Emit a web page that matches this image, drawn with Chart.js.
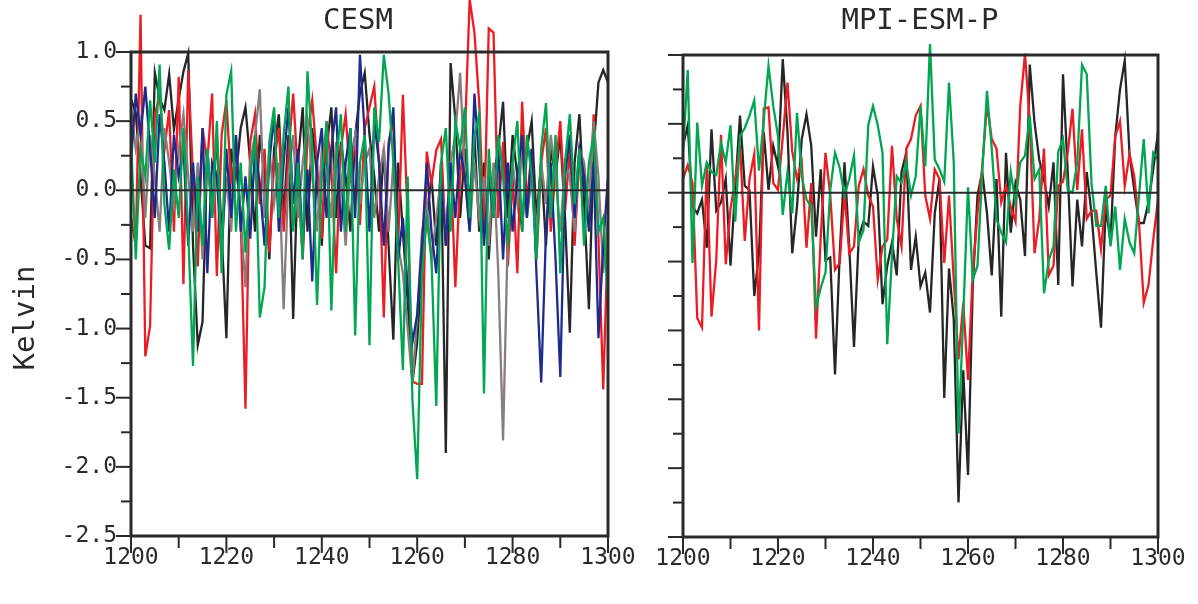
<!DOCTYPE html>
<html>
<head>
<meta charset="utf-8">
<script src="https://cdn.jsdelivr.net/npm/chart.js@4/dist/chart.umd.min.js"></script>
<style>
  html, body { margin: 0; padding: 0; background: #fff; }
  #wrap { position: relative; width: 1198px; height: 604px; }
  canvas { position: absolute; left: 0; top: 0; }
</style>
</head>
<body>
<div id="wrap">
  <canvas id="cesm" width="1198" height="604"></canvas>
  <canvas id="mpi" width="1198" height="604"></canvas>
</div>
<script>
// Years 1200..1300 (annual values)
const years = [];
for (let yr = 1200; yr <= 1300; yr++) years.push(yr);

// Axis ticks
const yTicksMajor = [-2.5, -2.0, -1.5, -1.0, -0.5, 0.0, 0.5, 1.0];
const yTicksMinor = [-2.25, -1.75, -1.25, -0.75, -0.25, 0.25, 0.75];
const xTicksMajor = [1200, 1220, 1240, 1260, 1280, 1300];
const xTicksMinor = [1210, 1230, 1250, 1270, 1290];

// CESM ensemble members (K)
const cesmRed = [-0.20,-0.40,1.27,-1.20,-0.98,0.55,0.68,0.29,0.58,-0.30,0.82,-0.68,0.87,0.10,-0.55,0.45,0.20,0.70,-0.62,0.40,
  0.65,0.05,0.30,-0.20,-1.58,0.35,0.55,-0.10,0.30,-0.45,0.20,0.45,-0.30,0.25,0.70,0.10,-0.50,0.40,0.65,0.20,
  -0.35,0.50,0.15,-0.60,0.30,0.55,0.05,0.40,-0.25,0.45,0.60,0.75,0.20,-0.92,0.35,0.50,-0.40,0.69,-0.20,-1.38,
  -1.40,-1.40,0.28,0.05,0.29,0.37,-0.40,0.20,-0.70,0.10,0.40,1.38,1.14,0.63,-0.30,1.17,1.14,-0.20,0.35,-0.55,
  0.10,-0.60,0.64,-0.10,0.30,-0.50,0.20,0.45,-0.30,0.15,0.50,-0.15,0.30,-0.40,0.25,0.10,-0.20,0.55,-0.35,-1.44,-0.30];
const cesmGreen = [0.37,-0.50,0.30,0.10,0.65,0.20,0.91,-0.10,-0.43,0.15,-0.20,0.45,-0.30,-1.27,0.10,-0.40,0.30,-0.20,0.50,-0.60,
  0.69,0.86,-0.30,0.20,-0.45,0.10,0.40,-0.92,-0.70,0.35,0.60,-0.20,0.40,0.75,-0.30,0.20,-0.50,0.86,0.30,-0.83,
  0.10,0.50,-0.87,0.20,0.55,-0.30,0.45,-1.05,0.20,0.40,-1.12,0.60,0.35,0.98,0.70,0.20,-0.50,-1.30,0.10,-1.52,
  -2.09,-0.60,-0.20,-0.50,-1.56,0.20,0.45,-0.30,0.50,0.30,0.60,-0.20,0.40,0.55,-1.47,0.30,-0.20,0.40,0.10,-0.40,
  0.20,0.50,-0.30,0.40,0.10,-0.50,0.30,0.63,-0.20,0.40,-0.60,0.20,0.55,-0.10,0.30,-0.40,0.20,0.40,-0.30,-0.20,-0.80];
const cesmBlue = [0.20,0.70,0.40,0.75,0.30,-0.20,0.55,0.20,-0.30,0.40,0.10,0.30,-0.40,0.20,-0.30,0.45,-0.60,0.20,0.10,-0.50,
  0.30,-0.20,0.40,-0.30,0.10,-0.35,0.30,0.05,-0.40,0.20,0.55,-0.30,0.20,0.60,-0.10,0.30,-0.40,0.15,-0.66,0.20,
  0.45,-0.20,0.30,0.60,-0.30,0.20,0.45,-0.20,0.98,0.40,-0.30,0.50,0.20,-0.40,0.30,0.60,-0.50,-0.20,-0.70,-1.10,
  -0.90,-0.40,0.20,-0.30,-0.60,0.10,-0.40,0.20,-0.20,0.30,0.10,-0.30,0.70,0.20,-0.40,0.10,-0.20,0.30,-0.50,0.20,
  -0.30,0.10,0.40,-0.20,0.30,-0.60,-1.39,-0.30,0.20,-0.50,-1.35,0.10,0.40,-0.20,0.30,0.10,-0.30,0.20,-1.07,-0.40,0.10];
const cesmGray = [0.60,0.30,0.50,-0.20,0.40,0.10,-0.30,0.45,0.20,-0.10,0.30,0.55,0.10,-0.30,0.20,-0.50,0.30,-0.20,0.15,-0.40,
  0.10,-0.30,0.40,-0.20,-0.70,0.20,0.40,0.73,-0.20,0.30,-0.10,0.20,-0.86,0.10,0.40,-0.20,0.20,0.50,0.10,-0.30,
  0.30,0.10,-0.20,0.35,0.10,-0.40,0.20,0.40,-0.10,0.20,0.30,-0.20,0.10,0.30,-0.30,0.20,-0.40,-0.60,-1.00,-1.40,
  -0.90,-0.30,-0.10,-0.50,-0.20,0.10,-0.30,0.20,0.40,0.85,0.10,-0.30,0.20,-0.20,0.10,-0.40,0.20,-0.60,-1.81,-0.30,
  0.20,-0.10,0.30,-0.20,0.10,-0.30,0.20,-0.10,0.40,0.10,-0.30,0.20,0.10,-0.30,0.30,0.20,-0.20,0.50,0.10,-0.60,-0.20];
const cesmBlack = [0.66,0.56,0.10,-0.40,-0.42,0.85,0.66,0.58,0.84,0.44,0.66,0.86,0.99,-0.40,-1.12,-0.95,0.30,-0.20,0.40,-0.30,
  -1.07,0.30,0.10,0.45,0.60,0.20,-0.30,0.40,0.10,-0.50,0.30,0.55,-0.20,0.40,-0.93,0.20,0.60,-0.30,0.45,0.10,
  -0.40,0.30,0.60,-0.20,0.35,0.10,-0.30,0.40,0.70,0.85,0.40,0.10,-0.30,0.30,-0.40,-1.08,0.20,-0.30,-0.80,-1.39,
  -1.10,-0.50,-0.20,0.10,-0.40,0.20,-1.90,0.92,0.51,-0.20,0.30,-0.10,0.40,-0.30,0.20,-0.50,0.10,0.30,0.64,-0.20,
  0.40,0.10,-0.30,0.30,0.50,-0.20,0.20,-0.40,0.30,0.10,0.40,-0.20,-1.03,0.20,0.55,-0.10,-0.86,0.30,0.78,0.87,0.78];

// MPI-ESM-P ensemble members (K)
const mpiRed = [0.10,0.20,0.07,-0.91,-0.98,0.20,-0.90,-0.49,0.42,-0.52,-0.12,0.10,0.35,-0.35,0.10,0.28,-1.00,0.61,0.62,0.07,
  0.02,0.40,0.80,0.30,0.10,0.22,-0.40,0.07,-1.06,-0.32,0.29,-0.02,-0.56,-0.51,0.00,-0.44,-0.39,0.05,0.17,-0.02,
  -0.10,-0.63,-0.39,-0.34,0.34,-0.19,-0.39,0.32,0.39,0.56,0.63,-0.02,-0.19,0.17,0.10,-0.51,-0.02,-0.63,-1.21,-0.80,
  -1.36,-0.58,-0.15,0.19,0.64,0.39,0.32,-0.07,0.05,-0.10,-0.21,0.63,1.01,0.51,-0.44,-0.19,0.32,-0.60,-0.53,0.05,
  0.08,0.29,0.61,0.02,0.46,-0.19,-0.13,-0.13,-0.41,-0.05,-0.02,0.41,0.52,0.05,0.28,0.12,-0.22,-0.80,-0.67,-0.34,-0.05];
const mpiGreen = [0.30,0.89,-0.51,0.51,0.05,0.22,0.15,0.13,0.36,0.22,0.49,-0.21,0.41,0.47,0.56,0.67,0.16,0.53,0.92,0.63,
  0.41,-0.16,0.15,-0.15,0.58,0.12,-0.05,-0.10,-0.83,-0.69,-0.58,0.02,0.29,0.18,-0.02,0.10,0.27,-0.36,-0.27,0.49,
  0.63,0.49,0.29,-1.10,-0.46,0.12,0.07,0.22,-0.02,0.12,0.63,0.19,1.08,0.24,0.17,0.08,0.80,0.22,-1.75,-0.90,
  0.04,-0.63,-0.53,0.15,0.74,0.32,-0.19,-0.29,-0.36,0.15,-0.07,0.22,0.27,0.56,0.10,0.17,-0.73,-0.49,-0.39,0.30,
  0.39,0.02,0.00,0.22,0.93,0.86,0.07,-0.24,-0.24,0.05,-0.39,-0.10,-0.56,-0.19,-0.36,-0.44,-0.02,0.39,-0.15,0.29,0.24];
const mpiBlack = [0.34,0.49,-0.10,-0.15,-0.05,-0.40,0.46,-0.13,-0.07,0.10,-0.53,0.04,0.56,0.05,0.02,-0.75,-0.44,0.44,0.02,0.34,
  0.19,0.97,0.44,-0.44,-0.10,0.39,0.57,0.34,-0.32,0.17,-0.49,-0.47,-1.32,-0.44,0.22,-0.39,-1.12,-0.32,-0.21,-0.24,
  0.19,-0.02,-0.81,-0.53,-0.36,-0.60,0.15,0.29,-0.56,-0.32,-0.68,-0.58,-0.87,-0.15,0.10,-1.49,-0.55,-0.92,-2.25,-1.29,
  -2.05,-0.68,-0.02,0.15,-0.15,-0.60,0.10,-0.90,0.29,-0.29,0.07,-0.05,-0.46,0.93,0.51,0.24,0.10,-0.10,0.22,-0.67,
  0.86,0.15,-0.68,-0.05,-0.39,0.15,-0.15,-0.58,-0.98,-0.10,-0.36,0.41,0.75,0.96,0.28,0.02,-0.22,-0.22,-0.07,0.17,0.44];

const RED = '#ec1c24', GREEN = '#00a651', BLUE = '#1e2a8f', GRAY = '#8a7c7c', BLACK = '#262626';
const AXIS = '#2a2a2a';
const FONT = "'DejaVu Sans Mono', 'Liberation Mono', monospace";

const toXY = arr => arr.map((v, i) => ({ x: years[i], y: v }));
const series = (data, color) => ({
  data: toXY(data), borderColor: color, borderWidth: 2.3, pointRadius: 0,
  tension: 0, fill: false, clip: false
});

// Frame, zero line, tick marks and panel texts
const panelDecor = {
  id: 'panelDecor',
  afterDatasetsDraw(chart, args, opts) {
    const { ctx, chartArea: a, scales: { x, y } } = chart;
    ctx.save();
    ctx.strokeStyle = AXIS;
    ctx.lineCap = 'butt';
    // zero line
    ctx.lineWidth = 2;
    const y0 = y.getPixelForValue(0);
    ctx.beginPath(); ctx.moveTo(a.left, y0); ctx.lineTo(a.right, y0); ctx.stroke();
    // frame
    ctx.lineWidth = 3;
    ctx.strokeRect(a.left, a.top, a.right - a.left, a.bottom - a.top);
    // y tick marks (outward)
    ctx.lineWidth = 2;
    const yMark = (v, len) => {
      const p = y.getPixelForValue(v);
      ctx.beginPath(); ctx.moveTo(a.left - len, p); ctx.lineTo(a.left, p); ctx.stroke();
    };
    yTicksMajor.forEach(v => yMark(v, 15));
    yTicksMinor.forEach(v => yMark(v, 10));
    // x tick marks (outward)
    const xMark = (v, len) => {
      const p = x.getPixelForValue(v);
      ctx.beginPath(); ctx.moveTo(p, a.bottom); ctx.lineTo(p, a.bottom + len); ctx.stroke();
    };
    xTicksMajor.forEach(v => xMark(v, 17));
    xTicksMinor.forEach(v => xMark(v, 12));
    // panel title
    ctx.fillStyle = AXIS;
    ctx.textAlign = 'center';
    ctx.textBaseline = 'alphabetic';
    ctx.font = `29px ${FONT}`;
    ctx.fillText(opts.title, opts.titleX, opts.titleY);
    if (opts.yTitle) {
      ctx.translate(opts.yTitleX, opts.yTitleY);
      ctx.rotate(-Math.PI / 2);
      ctx.fillText(opts.yTitle, 0, 0);
    }
    ctx.restore();
  }
};

const xScale = bottomEdge => ({
  type: 'linear', min: 1200, max: 1300,
  grid: { display: false, drawTicks: false }, border: { display: false },
  ticks: { stepSize: 20, padding: 8, color: AXIS, font: { family: FONT, size: 23 }, maxRotation: 0,
           callback: v => String(v) },
  afterFit: s => { s.height = 604 - bottomEdge; }
});

const cesmChart = new Chart(document.getElementById('cesm'), {
  type: 'line',
  data: { datasets: [
    series(cesmGreen, GREEN), series(cesmBlue, BLUE), series(cesmGray, GRAY),
    series(cesmRed, RED), series(cesmBlack, BLACK)
  ]},
  plugins: [panelDecor],
  options: {
    responsive: false, animation: false, devicePixelRatio: 1,
    layout: { padding: { left: 0, right: 1198 - 608, top: 52, bottom: 0 } },
    plugins: { legend: { display: false }, tooltip: { enabled: false },
      panelDecor: { title: 'CESM', titleX: 358, titleY: 29, yTitle: 'Kelvin', yTitleX: 34, yTitleY: 318 } },
    scales: {
      x: xScale(536),
      y: { min: -2.5, max: 1.0,
        grid: { display: false, drawTicks: false }, border: { display: false },
        ticks: { stepSize: 0.5, padding: 14, color: AXIS, font: { family: FONT, size: 23 },
                 callback: v => v.toFixed(1) },
        afterFit: s => { s.width = 131; } }
    }
  }
});

const mpiChart = new Chart(document.getElementById('mpi'), {
  type: 'line',
  data: { datasets: [
    series(mpiGreen, GREEN), series(mpiRed, RED), series(mpiBlack, BLACK)
  ]},
  plugins: [panelDecor],
  options: {
    responsive: false, animation: false, devicePixelRatio: 1,
    layout: { padding: { left: 683, right: 1198 - 1158, top: 55, bottom: 0 } },
    plugins: { legend: { display: false }, tooltip: { enabled: false },
      panelDecor: { title: 'MPI-ESM-P', titleX: 920, titleY: 29 } },
    scales: {
      x: xScale(537),
      y: { min: -2.5, max: 1.0,
        grid: { display: false, drawTicks: false }, border: { display: false },
        ticks: { display: false, stepSize: 0.5 },
        afterFit: s => { s.width = 0; } }
    }
  }
});
</script>
</body>
</html>
